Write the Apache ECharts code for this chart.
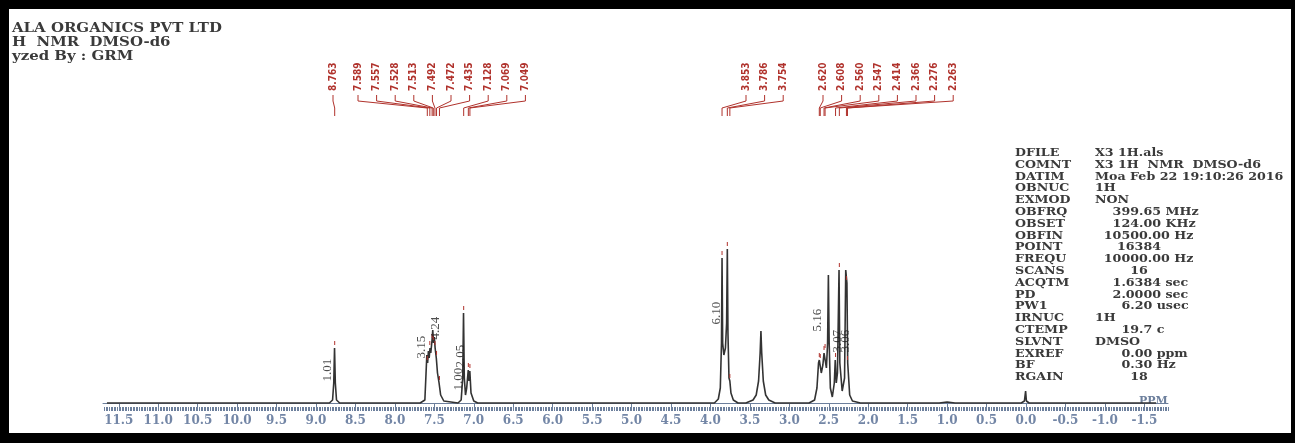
<!DOCTYPE html>
<html>
<head>
<meta charset="utf-8">
<script src="https://cdn.jsdelivr.net/npm/echarts@6/dist/echarts.min.js"></script>
<style>
  html, body { margin: 0; padding: 0; background: #fff; }
  #chartDiv { width: 1295px; height: 443px; }
</style>
</head>
<body>
<div id="chartDiv"></div>
<script>
// 初始化图表
let myChart = echarts.init(document.getElementById('chartDiv'));
window.onresize = myChart.resize;

// header text of the printout
const headerLines = ['ALA ORGANICS PVT LTD', 'H  NMR  DMSO-d6', 'yzed By : GRM'];

// acquisition parameters (name / value)
const paramNames = ['DFILE', 'COMNT', 'DATIM', 'OBNUC', 'EXMOD', 'OBFRQ', 'OBSET', 'OBFIN', 'POINT', 'FREQU',
    'SCANS', 'ACQTM', 'PD', 'PW1', 'IRNUC', 'CTEMP', 'SLVNT', 'EXREF', 'BF', 'RGAIN'];
const paramValues = ['X3 1H.als', 'X3 1H  NMR  DMSO-d6', 'Moa Feb 22 19:10:26 2016', '1H', 'NON',
    '    399.65 MHz', '    124.00 KHz', '  10500.00 Hz', '     16384', '  10000.00 Hz',
    '        16', '    1.6384 sec', '    2.0000 sec', '      6.20 usec', '1H',
    '      19.7 c', 'DMSO', '      0.00 ppm', '      0.30 Hz', '        18'];

// x axis tick labels (ppm)
const tickLabels = ['11.5', '11.0', '10.5', '10.0', '9.5', '9.0', '8.5', '8.0', '7.5', '7.0', '6.5', '6.0',
    '5.5', '5.0', '4.5', '4.0', '3.5', '3.0', '2.5', '2.0', '1.5', '1.0', '0.5', '0.0', '-0.5', '-1.0', '-1.5'];

// spectrum trace: ppm / intensity
const specPpm = [11.65, 10.62, 10.6, 10.58, 8.83, 8.79, 8.775, 8.765, 8.755, 8.74, 8.70,
    7.68, 7.62, 7.605, 7.595, 7.585, 7.575, 7.565, 7.555, 7.545, 7.53, 7.52, 7.51, 7.50, 7.49, 7.475, 7.46, 7.44, 7.42, 7.38,
    7.2, 7.16, 7.14, 7.13, 7.12, 7.105, 7.09, 7.07, 7.06, 7.05, 7.035, 7.0, 6.95,
    3.95, 3.9, 3.875, 3.86, 3.853, 3.845, 3.83, 3.81, 3.795, 3.786, 3.778, 3.765, 3.754, 3.74, 3.71, 3.65,
    3.55, 3.46, 3.42, 3.39, 3.37, 3.36, 3.35, 3.33, 3.30, 3.26, 3.18,
    2.75, 2.68, 2.65, 2.63, 2.62, 2.608, 2.595, 2.575, 2.56, 2.547, 2.53, 2.515, 2.505, 2.495, 2.48, 2.455,
    2.43, 2.418, 2.405, 2.39, 2.37, 2.36, 2.33, 2.30, 2.285, 2.27, 2.26, 2.235, 2.2, 2.1,
    1.1, 1.0, 0.9, 0.06, 0.02, 0.005, -0.005, -0.04, -1.65];
const specInt = [0, 0, 1.5, 0, 0, 3, 20, 55, 20, 3, 0,
    0, 3, 30, 48, 40, 52, 45, 55, 50, 62, 73, 60, 66, 55, 45, 30, 20, 8, 2,
    0, 3, 25, 90, 25, 8, 15, 33, 22, 32, 10, 2, 0,
    0, 4, 15, 60, 145, 60, 48, 55, 80, 154, 70, 25, 22, 10, 3, 0,
    0, 3, 8, 22, 50, 72, 50, 22, 8, 3, 0,
    0, 3, 15, 40, 43, 42, 30, 38, 50, 52, 35, 60, 128, 60, 15, 6,
    20, 43, 20, 30, 133, 40, 12, 25, 133, 120, 40, 8, 2, 0,
    0, 1, 0, 0, 2, 12, 2, 0, 0];

// picked peaks (ppm), one list per label group
const peakGroups = [
    ['8.763'],
    ['7.589', '7.557', '7.528', '7.513', '7.492', '7.472', '7.435', '7.128', '7.069', '7.049'],
    ['3.853', '3.786', '3.754'],
    ['2.620', '2.608', '2.560', '2.547', '2.414', '2.366', '2.276', '2.263']
];

// integrals: position (ppm), level, value
const integralPpm = [8.85, 7.66, 7.49, 7.17, 7.19, 3.92, 2.64, 2.385, 2.29];
const integralLevel = [33, 56, 75, 47, 24, 90, 83, 62, 62];
const integralText = ['1.01', '3.15', '4.24', '2.05', '1.00', '6.10', '5.16', '3.07', '3.06'];

// ---- layout constants ----
const RED = '#b0322c';
const AXIS_BLUE = '#6c7f9c';
const labelStart = [333, 358, 746, 823];
const labelGap = 18.6;

let spectrum = specPpm.map((p, i) => [p, specInt[i]]);

let peakData = [];
peakGroups.forEach((g, gi) => {
    g.forEach((s, k) => peakData.push([parseFloat(s), gi, k, s]));
});

// height of trace near a ppm (closest listed point)
function traceHeight(ppm) {
    let best = 0, bd = 1e9;
    spectrum.forEach(d => {
        let dd = Math.abs(d[0] - ppm);
        if (dd < bd) { bd = dd; best = d[1]; }
    });
    return best;
}

let majorTicks = tickLabels.map(Number);
let minorTicks = [];
for (let i = -90; i <= 585; i++) minorTicks.push(i * 0.02);

let graphics = [];
// frame of the scanned sheet
graphics.push({type: 'rect', left: 0, top: 0, shape: {width: 1295, height: 9}, style: {fill: '#000'}});
graphics.push({type: 'rect', left: 0, top: 0, shape: {width: 9, height: 443}, style: {fill: '#000'}});
graphics.push({type: 'rect', left: 0, top: 433, shape: {width: 1295, height: 10}, style: {fill: '#000'}});
graphics.push({type: 'rect', left: 1291, top: 0, shape: {width: 4, height: 443}, style: {fill: '#000'}});

headerLines.forEach((t, i) => {
    graphics.push({type: 'text', x: 12, y: 22 + i * 14.2, scaleX: 1.15,
        style: {text: t, fill: '#3a3a3a', font: 'bold 13px "DejaVu Serif"'}});
});

paramNames.forEach((n, i) => {
    graphics.push({type: 'text', x: 1015, y: 147 + i * 11.8, scaleX: 1.1,
        style: {text: n, fill: '#3a3a3a', font: 'bold 11.5px "DejaVu Serif"'}});
    graphics.push({type: 'text', x: 1095, y: 147 + i * 11.8, scaleX: 1.1,
        style: {text: paramValues[i], fill: '#3a3a3a', font: 'bold 11.5px "DejaVu Serif"'}});
});

graphics.push({type: 'text', x: 1139, y: 396,
    style: {text: 'PPM', fill: AXIS_BLUE, font: 'bold 11px "DejaVu Serif"'}});

// 图表设置
let option = {
    backgroundColor: '#fff',
    animation: false,
    graphic: graphics,
    grid: {left: 103, right: 127, top: 107, bottom: 36},
    xAxis: [
        {
            type: 'value', min: -1.8, max: 11.7, inverse: true,
            axisLine: {lineStyle: {color: AXIS_BLUE, width: 1}},
            axisTick: {customValues: majorTicks, length: 7, lineStyle: {color: AXIS_BLUE}},
            axisLabel: {customValues: majorTicks, margin: 8, color: '#7386a6',
                fontFamily: 'DejaVu Serif', fontWeight: 'bold', fontSize: 12,
                formatter: v => v.toFixed(1)},
            splitLine: {show: false}
        },
        {
            type: 'value', min: -1.8, max: 11.7, inverse: true, position: 'bottom',
            axisLine: {show: false},
            axisTick: {customValues: minorTicks, length: 4, lineStyle: {color: AXIS_BLUE}},
            axisLabel: {show: false},
            splitLine: {show: false}
        }
    ],
    yAxis: {type: 'value', min: -4, max: 296, show: false},
    series: [
        {
            type: 'line',
            data: spectrum,
            showSymbol: false,
            lineStyle: {color: '#333', width: 1.6},
            z: 3
        },
        {
            // peak labels with their connecting brackets
            type: 'custom',
            data: peakData,
            renderItem: function (params, api) {
                let ppm = api.value(0), gi = api.value(1), k = api.value(2);
                let lx = labelStart[gi] + k * labelGap;
                let px = api.coord([ppm, 0])[0];
                let txt = peakData[params.dataIndex][3];
                return {
                    type: 'group',
                    children: [
                        {type: 'text', x: lx, y: 91, rotation: Math.PI / 2,
                            style: {text: txt, x: 0, y: 0, fill: RED,
                                font: 'bold 10px "DejaVu Sans Condensed"',
                                align: 'left', verticalAlign: 'middle'}},
                        {type: 'polyline',
                            shape: {points: [[lx, 95], [lx, 101], [px, 108], [px, 116]]},
                            style: {stroke: RED, lineWidth: 1, fill: null}}
                    ]
                };
            },
            z: 4
        },
        {
            // small markers above the picked peaks
            type: 'custom',
            data: peakData,
            renderItem: function (params, api) {
                let ppm = api.value(0);
                let p = api.coord([ppm, traceHeight(ppm)]);
                return {type: 'line', shape: {x1: p[0], y1: p[1] - 7, x2: p[0], y2: p[1] - 3},
                    style: {stroke: RED, lineWidth: 1}};
            },
            z: 5
        },
        {
            type: 'scatter',
            data: integralPpm.map((p, i) => [p, integralLevel[i], integralText[i]]),
            symbolSize: 0,
            label: {
                show: true, position: 'inside', rotate: 90,
                formatter: p => p.value[2],
                color: '#222', fontFamily: 'Liberation Serif', fontSize: 13
            },
            z: 6
        }
    ]
};
myChart.setOption(option);
</script>
</body>
</html>
